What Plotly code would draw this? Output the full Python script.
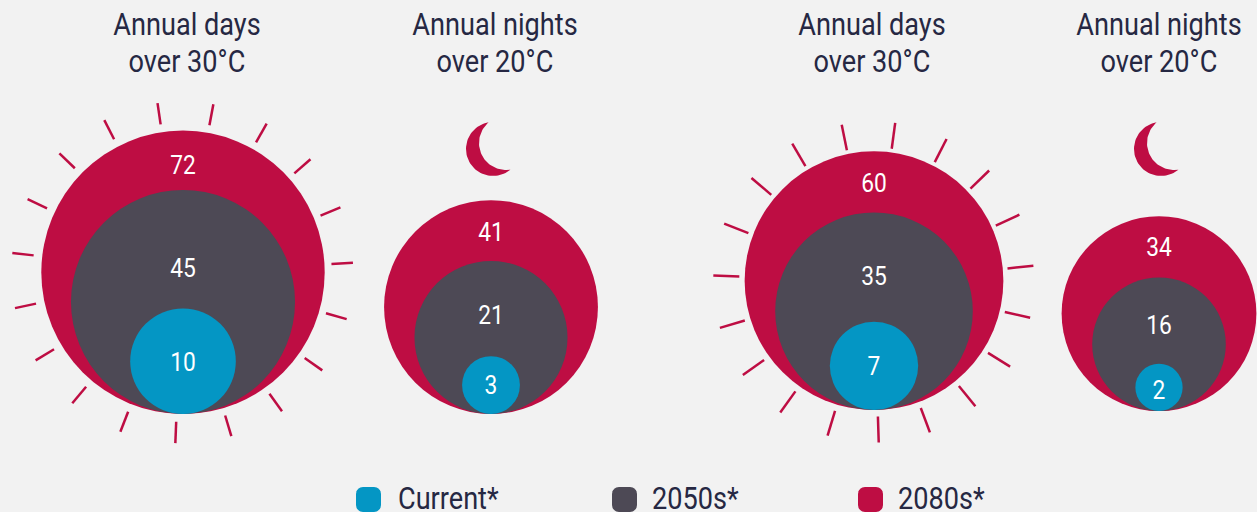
import math
import plotly.graph_objects as go

# Data
SERIES = ["Current*", "2050s*", "2080s*"]
COLORS = ["#0496c4", "#4d4955", "#be0d43"]
current = [10, 3, 7, 2]
s2050 = [45, 21, 35, 16]
s2080 = [72, 41, 60, 34]
panel_x = [183, 491, 874, 1159]
panel_bottom = [414, 414, 410, 411]
label_y_current = [364, 387, 368, 392]
label_y_2050 = [270, 317, 278, 327]
label_y_2080 = [167, 234, 185, 249]
titles = [("Annual days", "over 30°C"), ("Annual nights", "over 20°C"),
          ("Annual days", "over 30°C"), ("Annual nights", "over 20°C")]
title_x = [187, 495, 872, 1159]
title_y = [27, 64]

sun_angles_a = [351.7, 10.5, 29.6, 48.6, 67.7, 86.8, 105.9, 125, 144.3, 163.3, 182.3, 201.2, 220, 239, 257.9, 276.5, 295.3, 314.1, 332.9]
sun_angles_b = [348.5, 7.7, 27, 46, 65.2, 84.2, 102.9, 121.8, 140.7, 159.5, 178.2, 196.7, 215.6, 234.6, 253.4, 272.3, 291.3, 310.4, 329.5]
sun_centres = [(182.2, 272.3), (873.7, 282)]
sun_radii = [(149.5, 171), (134.5, 160.5)]
moon_x = [493, 1161]
moon_y = 149
legend_box_x = [356, 612, 858]
legend_text_x = [398, 652, 898]

K = 16.7  # px per sqrt(value)
FONT = "Roboto, sans-serif"
INK = "#262843"

fig = go.Figure()

# sun rays
for (cx, cy), (r0, r1), angles in zip(sun_centres, sun_radii, [sun_angles_a, sun_angles_b]):
    xs, ys = [], []
    for a in angles:
        t = math.radians(a)
        xs += [cx + r0 * math.sin(t), cx + r1 * math.sin(t), None]
        ys += [cy - r0 * math.cos(t), cy - r1 * math.cos(t), None]
    fig.add_trace(go.Scatter(x=xs, y=ys, mode="lines", hoverinfo="skip",
                             line=dict(color=COLORS[2], width=2.5)))

# nested circles
for vals, color in zip([s2080, s2050, current], [COLORS[2], COLORS[1], COLORS[0]]):
    radii = [K * math.sqrt(v) for v in vals]
    fig.add_trace(go.Scatter(
        x=panel_x, y=[b - r for b, r in zip(panel_bottom, radii)], mode="markers",
        marker=dict(size=[2 * r for r in radii], sizemode="diameter", color=color, line=dict(width=0), opacity=1),
        hoverinfo="skip"))

# value labels
for vals, ly in zip([s2080, s2050, current], [label_y_2080, label_y_2050, label_y_current]):
    fig.add_trace(go.Scatter(x=panel_x, y=ly, mode="text", text=[str(v) for v in vals],
                             textposition="middle center", hoverinfo="skip", cliponaxis=False,
                             textfont=dict(family=FONT, size=26, color="white")))

# titles
for i, yy in enumerate(title_y):
    fig.add_trace(go.Scatter(x=title_x, y=[yy] * 4, mode="text", text=[t[i] for t in titles],
                             textposition="middle center", hoverinfo="skip", cliponaxis=False,
                             textfont=dict(family=FONT, size=31, color=INK)))

# moons: outer disc minus an offset disc
def crescent(cx, cy):
    r = 27.0
    ox, oy = 13.0, -6.0
    d = math.hypot(ox, oy)
    base = math.atan2(oy, ox)
    half = math.acos(d / (2 * r))
    n = 50
    xs, ys = [], []
    start = base + half
    span = 2 * math.pi - 2 * half
    for i in range(n + 1):
        t = start + span * i / n
        xs.append(cx + r * math.cos(t)); ys.append(cy + r * math.sin(t))
    a0 = math.atan2(cy + r * math.sin(start + span) - (cy + oy), cx + r * math.cos(start + span) - (cx + ox))
    a1 = math.atan2(cy + r * math.sin(start) - (cy + oy), cx + r * math.cos(start) - (cx + ox))
    if a1 > a0:
        a1 -= 2 * math.pi
    for i in range(n + 1):
        t = a0 + (a1 - a0) * i / n
        xs.append(cx + ox + r * math.cos(t)); ys.append(cy + oy + r * math.sin(t))
    return xs, ys

for mx in moon_x:
    xs, ys = crescent(mx, moon_y)
    fig.add_trace(go.Scatter(x=xs, y=ys, mode="lines", fill="toself", fillcolor=COLORS[2],
                             line=dict(width=0), hoverinfo="skip"))

# legend
def rounded(x0, y0, w, h, r):
    xs, ys = [], []
    corners = [(x0 + w - r, y0 + r, -90), (x0 + w - r, y0 + h - r, 0), (x0 + r, y0 + h - r, 90), (x0 + r, y0 + r, 180)]
    for cx, cy, s in corners:
        for i in range(9):
            t = math.radians(s + 90 * i / 8)
            xs.append(cx + r * math.cos(t)); ys.append(cy + r * math.sin(t))
    return xs + xs[:1], ys + ys[:1]

for name, color, bx, tx in zip(SERIES, COLORS, legend_box_x, legend_text_x):
    xs, ys = rounded(bx, 487, 25, 25, 7)
    fig.add_trace(go.Scatter(x=xs, y=ys, mode="lines", fill="toself", fillcolor=color,
                             line=dict(width=0), hoverinfo="skip"))
    fig.add_trace(go.Scatter(x=[tx], y=[501], mode="text", text=[name], textposition="middle right",
                             hoverinfo="skip", cliponaxis=False,
                             textfont=dict(family=FONT, size=31, color=INK)))

fig.update_layout(
    width=1257, height=512, showlegend=False,
    margin=dict(l=0, r=0, t=0, b=0),
    paper_bgcolor="#f2f2f2", plot_bgcolor="#f2f2f2",
    xaxis=dict(range=[0, 1257], visible=False, fixedrange=True),
    yaxis=dict(range=[512, 0], visible=False, fixedrange=True),
)

# page without margins; text narrowed to the reference's condensed face
POST = """
document.documentElement.style.margin='0';
document.body.style.margin='0';
document.body.style.overflow='hidden';
document.querySelectorAll('.textpoint text').forEach(function(t){
  var w=t.getComputedTextLength();
  t.setAttribute('textLength',(w*0.875).toFixed(2));
  t.setAttribute('lengthAdjust','spacingAndGlyphs');
});
"""
fig.write_html("out.html", config={"displayModeBar": False}, post_script=POST)
